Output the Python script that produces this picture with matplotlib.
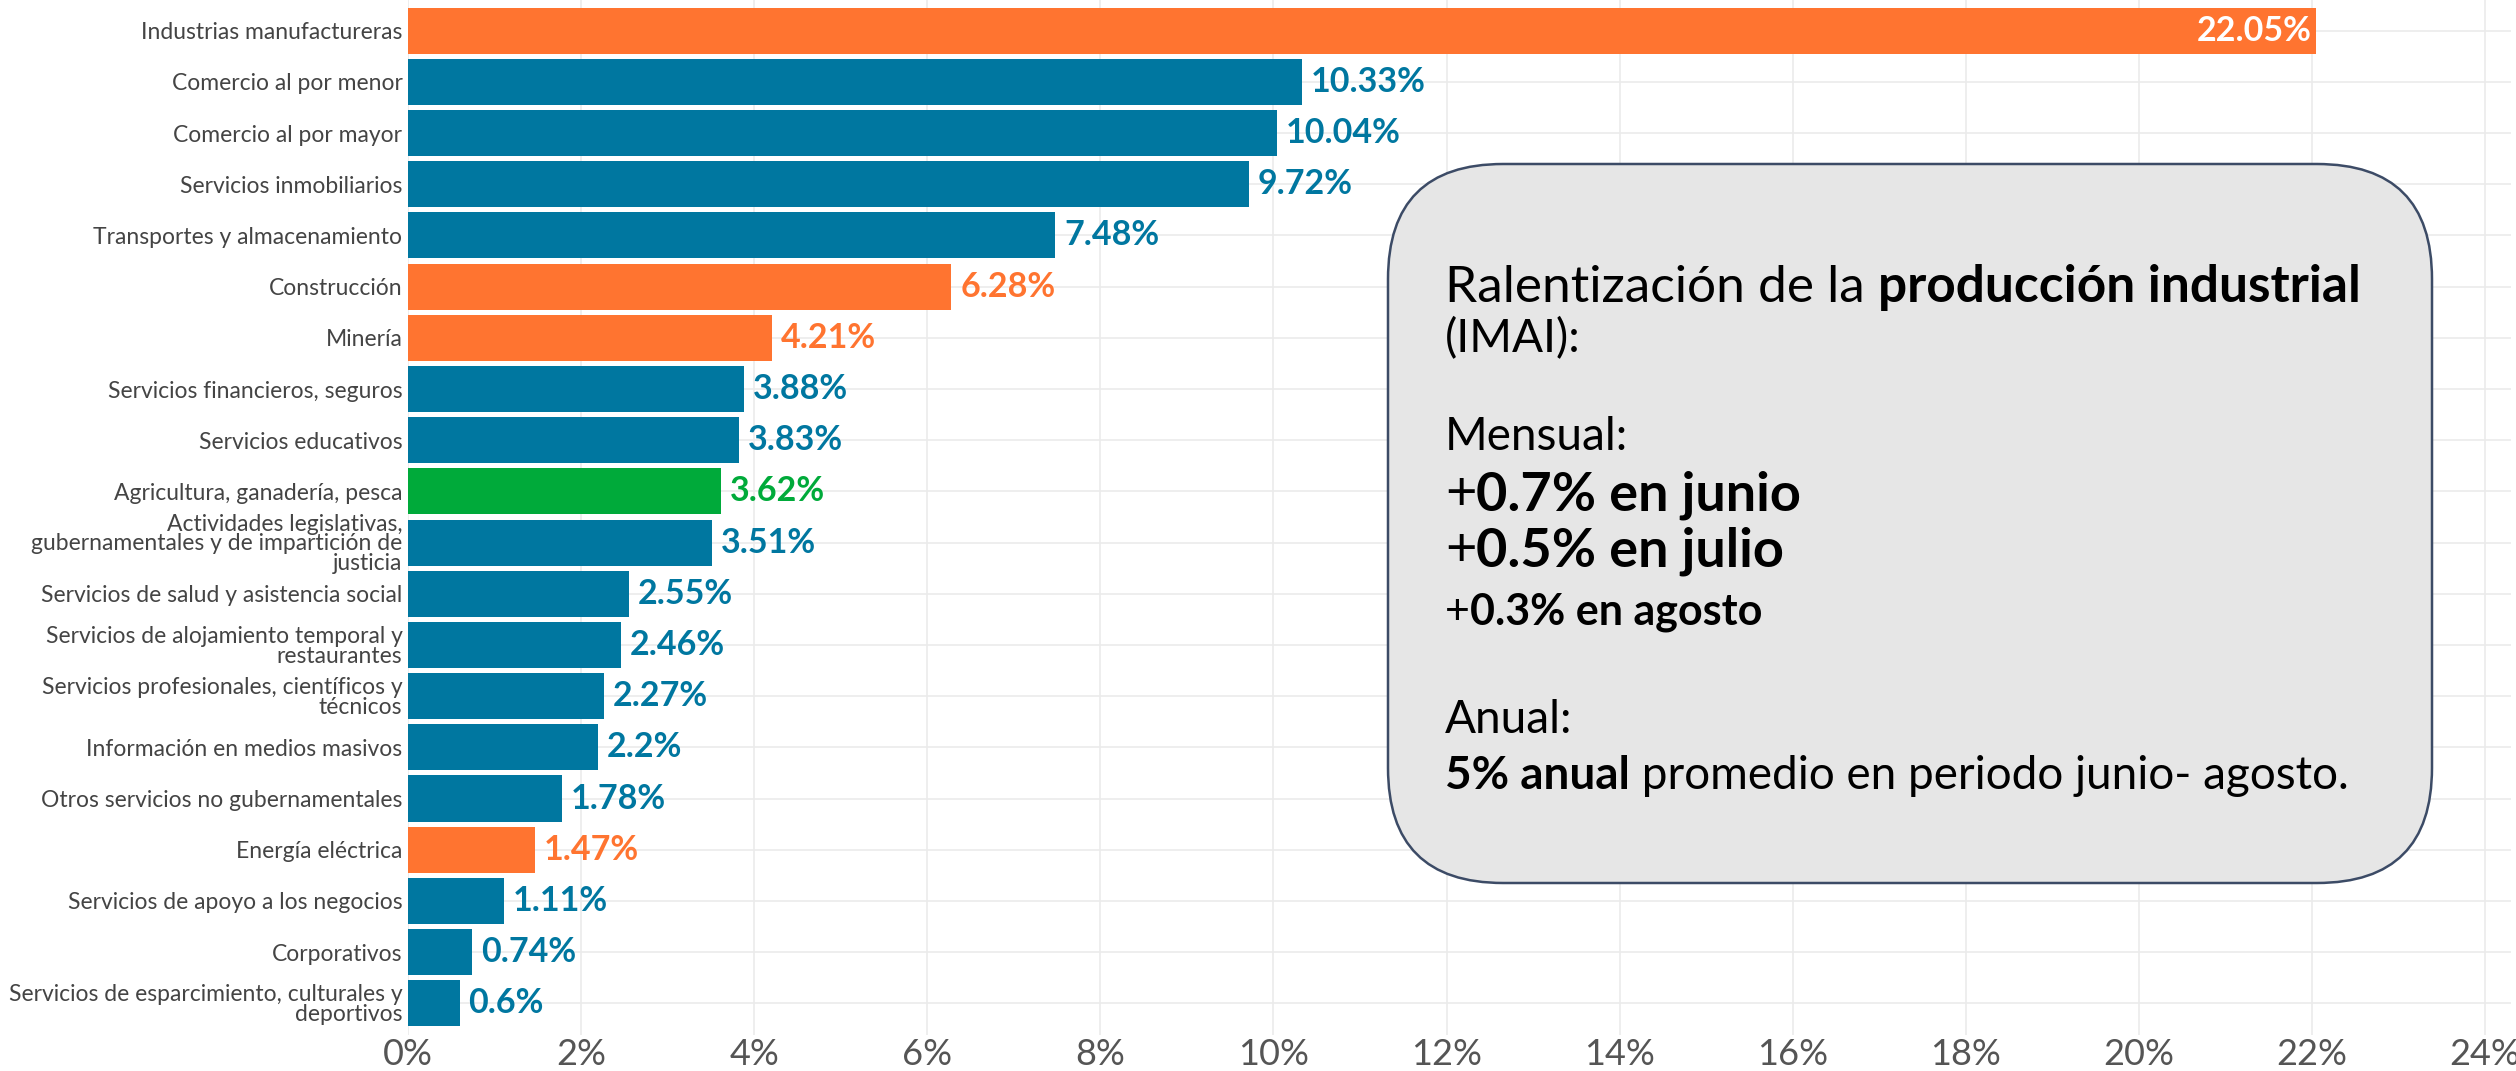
import matplotlib
matplotlib.use("Agg")
import matplotlib.pyplot as plt
from matplotlib.patches import FancyBboxPatch

plt.rcParams['font.family'] = ['Lato', 'DejaVu Sans']

sectores = [
    "Industrias manufactureras",
    "Comercio al por menor",
    "Comercio al por mayor",
    "Servicios inmobiliarios",
    "Transportes y almacenamiento",
    "Construcción",
    "Minería",
    "Servicios financieros, seguros",
    "Servicios educativos",
    "Agricultura, ganadería, pesca",
    "Actividades legislativas,\ngubernamentales y de impartición de\njusticia",
    "Servicios de salud y asistencia social",
    "Servicios de alojamiento temporal y\nrestaurantes",
    "Servicios profesionales, científicos y\ntécnicos",
    "Información en medios masivos",
    "Otros servicios no gubernamentales",
    "Energía eléctrica",
    "Servicios de apoyo a los negocios",
    "Corporativos",
    "Servicios de esparcimiento, culturales y\ndeportivos",
]
valores = [22.05, 10.33, 10.04, 9.72, 7.48, 6.28, 4.21, 3.88, 3.83, 3.62,
           3.51, 2.55, 2.46, 2.27, 2.2, 1.78, 1.47, 1.11, 0.74, 0.6]
grupo = ["ind", "serv", "serv", "serv", "serv", "ind", "ind", "serv", "serv", "agro",
         "serv", "serv", "serv", "serv", "serv", "serv", "ind", "serv", "serv", "serv"]
etiquetas = ["22.05%", "10.33%", "10.04%", "9.72%", "7.48%", "6.28%", "4.21%", "3.88%",
             "3.83%", "3.62%", "3.51%", "2.55%", "2.46%", "2.27%", "2.2%", "1.78%",
             "1.47%", "1.11%", "0.74%", "0.6%"]
xticks = list(range(0, 25, 2))

colores = {"ind": "#FF7430", "serv": "#0077A0", "agro": "#00AA3A"}

fig = plt.figure(figsize=(25.16, 10.71), dpi=100)
ax = fig.add_axes([408 / 2516, 1 - 1035 / 1071, 1 - 408 / 2516 - 0.002, 1035 / 1071])

y = list(range(len(sectores)))
cols = [colores[g] for g in grupo]
ax.barh(y, valores, height=0.9, color=cols, zorder=2)

for i, (v, lab, c) in enumerate(zip(valores, etiquetas, cols)):
    if v > 20:
        ax.text(v - 0.05, i, lab, ha="right", va="center", color="white",
                fontsize=24.5, fontweight="bold", zorder=3)
    else:
        ax.text(v + 0.1, i, lab, ha="left", va="center", color=c,
                fontsize=24.5, fontweight="bold", zorder=3)

ax.set_xlim(0, 24.3)
ax.set_ylim(19.62, -0.6)
ax.set_yticks(y)
ax.set_yticklabels(sectores, fontsize=16.5, color="#444444", linespacing=0.92)
ax.set_xticks(xticks)
ax.set_xticklabels([f"{t}%" for t in xticks], fontsize=26, color="#555555")
ax.tick_params(axis="both", length=0)
ax.tick_params(axis="y", pad=4)
ax.tick_params(axis="x", pad=2)
ax.grid(True, color="#ebebeb", lw=1.2, zorder=0)
for s in ax.spines.values():
    s.set_visible(False)

# recuadro con comentario
ov = fig.add_axes([0, 0, 1, 1], facecolor="none")
ov.set_xlim(0, 2516)
ov.set_ylim(1071, 0)
ov.axis("off")
box = FancyBboxPatch((1388, 164), 1044, 719,
                     boxstyle="round,pad=0,rounding_size=115",
                     facecolor="#e6e6e6", edgecolor="#3c4b66", lw=1.8, zorder=5)
ov.add_patch(box)

fig.canvas.draw()
renderer = fig.canvas.get_renderer()


def linea(x0, yc, partes, size):
    x = x0
    for txt, w in partes:
        t = ov.text(x, yc, txt, ha="left", va="baseline", fontsize=size,
                    fontweight=w, color="black", zorder=6)
        bb = t.get_window_extent(renderer=renderer)
        x += bb.width


linea(1445, 302, [("Ralentización de la ", "normal"), ("producción industrial", "bold")], 37)
linea(1445, 352, [("(IMAI):", "normal")], 33)
linea(1445, 450, [("Mensual:", "normal")], 33)
linea(1445, 510, [("+", "normal"), ("0.7% en junio", "bold")], 39)
linea(1445, 566, [("+", "normal"), ("0.5% en julio", "bold")], 39)
linea(1445, 624, [("+", "normal"), ("0.3% en agosto", "bold")], 31)
linea(1445, 733, [("Anual:", "normal")], 33)
linea(1445, 789, [("5% anual", "bold"), (" promedio en periodo junio- agosto.", "normal")], 33)

fig.savefig("out.png", dpi=100)
